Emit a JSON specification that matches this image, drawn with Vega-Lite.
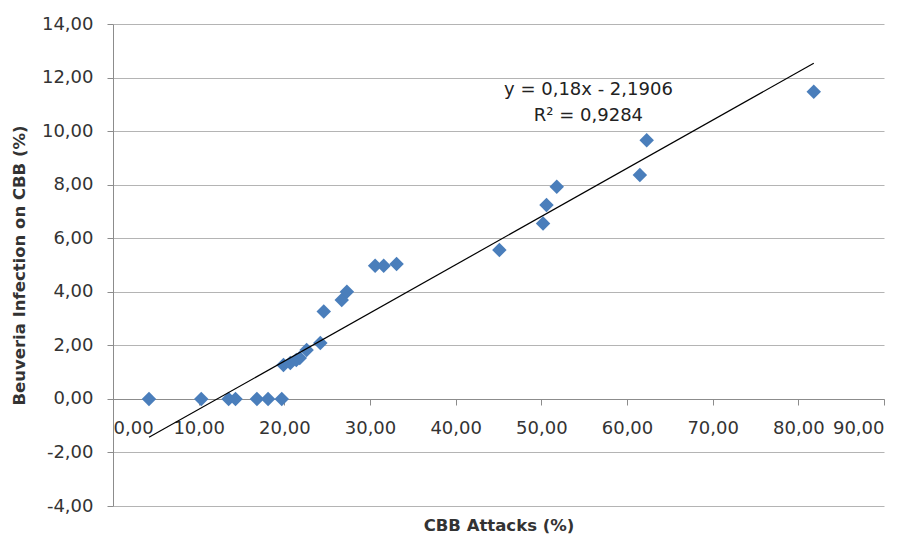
{
  "$schema": "https://vega.github.io/schema/vega-lite/v6.json",
  "width": 771,
  "height": 482,
  "autosize": {"type": "none"},
  "padding": {"left": 113, "top": 24, "right": 29, "bottom": 31},
  "background": "white",
  "config": {
    "view": {"stroke": null},
    "font": "DejaVu Sans",
    "axis": {"labelFont": "DejaVu Sans", "titleFont": "DejaVu Sans", "labelColor": "#333333", "titleColor": "#333333"}
  },
  "datasets": {
    "pts": [
      {"attack": 4.2, "infection": 0},
      {"attack": 10.3, "infection": 0},
      {"attack": 13.5, "infection": 0},
      {"attack": 14.3, "infection": 0},
      {"attack": 16.8, "infection": 0},
      {"attack": 18.1, "infection": 0},
      {"attack": 19.7, "infection": 0},
      {"attack": 19.9, "infection": 1.27},
      {"attack": 20.7, "infection": 1.34},
      {"attack": 21.4, "infection": 1.45},
      {"attack": 21.8, "infection": 1.53},
      {"attack": 22.6, "infection": 1.83},
      {"attack": 24.2, "infection": 2.09},
      {"attack": 24.6, "infection": 3.26},
      {"attack": 26.7, "infection": 3.69},
      {"attack": 27.3, "infection": 4.0},
      {"attack": 30.6, "infection": 4.97},
      {"attack": 31.6, "infection": 4.97},
      {"attack": 33.1, "infection": 5.04},
      {"attack": 45.1, "infection": 5.56},
      {"attack": 50.2, "infection": 6.55},
      {"attack": 50.6, "infection": 7.24},
      {"attack": 51.8, "infection": 7.92},
      {"attack": 61.5, "infection": 8.36},
      {"attack": 62.3, "infection": 9.66},
      {"attack": 81.8, "infection": 11.47}
    ],
    "trend": [
      {"attack": 4.2, "infection": -1.4346},
      {"attack": 81.8, "infection": 12.5334}
    ],
    "labels": [
      {"attack": 55.5, "infection": 11.55, "text": "y = 0,18x - 2,1906"},
      {"attack": 55.5, "infection": 10.55, "text": "R² = 0,9284"}
    ]
  },
  "layer": [
    {
      "data": {"name": "pts"},
      "mark": {"type": "point", "shape": "diamond", "filled": true, "size": 210, "color": "#4A7EBB", "opacity": 1},
      "encoding": {
        "x": {
          "field": "attack", "type": "quantitative",
          "scale": {"domain": [0, 90], "nice": false, "zero": false},
          "axis": {
            "values": [0, 10, 20, 30, 40, 50, 60, 70, 80, 90],
            "labelExpr": "replace(format(datum.value, '.2f'), '.', ',')",
            "offset": -107,
            "grid": false,
            "domainColor": "#8c8c8c",
            "tickColor": "#8c8c8c",
            "tickSize": 6,
            "labelFontSize": 18,
            "labelPadding": 14,
            "title": "CBB Attacks (%)",
            "titleFontSize": 16.5,
            "titleFontWeight": "bold",
            "titleY": 118,
            "titleBaseline": "top"
          }
        },
        "y": {
          "field": "infection", "type": "quantitative",
          "scale": {"domain": [-4, 14], "nice": false, "zero": false},
          "axis": {
            "values": [-4, -2, 0, 2, 4, 6, 8, 10, 12, 14],
            "labelExpr": "replace(replace(format(datum.value, '.2f'), '.', ','), '\u2212', '-')",
            "grid": true,
            "gridColor": "#b4b4b4",
            "gridWidth": 1,
            "domainColor": "#8c8c8c",
            "tickColor": "#8c8c8c",
            "tickSize": 6,
            "labelFontSize": 18,
            "labelPadding": 14,
            "title": "Beuveria Infection on CBB (%)",
            "titleFontSize": 16.5,
            "titleFontWeight": "bold",
            "titlePadding": 14
          }
        }
      }
    },
    {
      "data": {"name": "trend"},
      "mark": {"type": "line", "color": "#000000", "strokeWidth": 1.2},
      "encoding": {
        "x": {"field": "attack", "type": "quantitative"},
        "y": {"field": "infection", "type": "quantitative"}
      }
    },
    {
      "data": {"name": "labels"},
      "mark": {"type": "text", "fontSize": 18, "color": "#222222", "align": "center", "baseline": "middle", "font": "DejaVu Sans"},
      "encoding": {
        "x": {"field": "attack", "type": "quantitative"},
        "y": {"field": "infection", "type": "quantitative"},
        "text": {"field": "text"}
      }
    }
  ]
}
